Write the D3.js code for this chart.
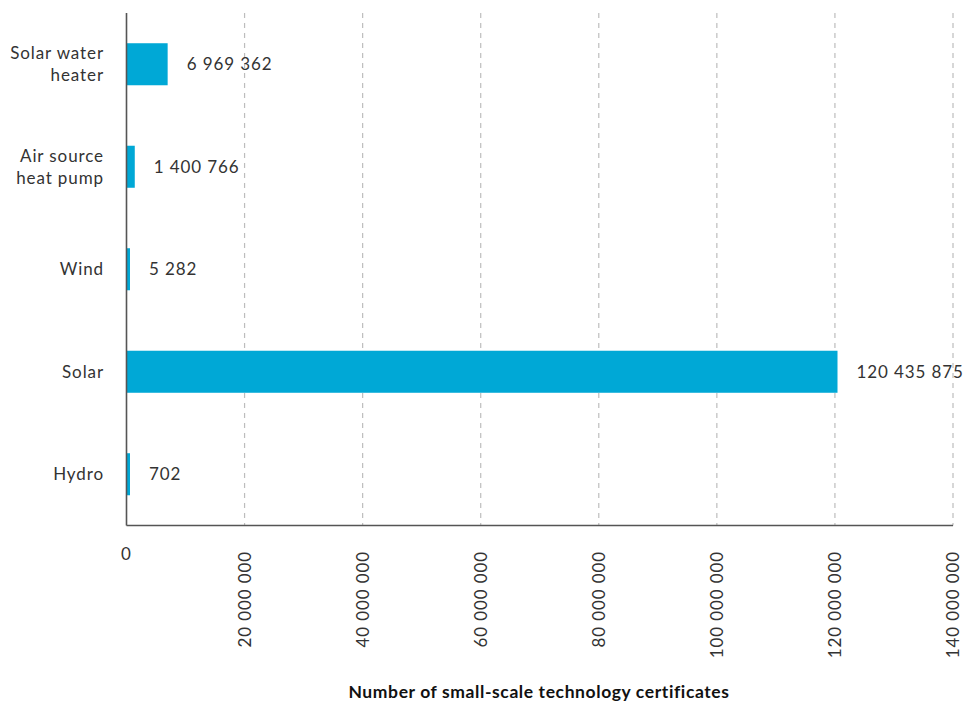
<!DOCTYPE html>
<html>
<head>
<meta charset="utf-8">
<script src="https://cdn.jsdelivr.net/npm/d3@7"></script>
<style>
  html, body { margin: 0; padding: 0; background: #fff; }
  svg text { font-family: Lato, "Open Sans", sans-serif; fill: #333; }
</style>
</head>
<body>
<svg id="chart" width="965" height="701"></svg>
<script>
// Small-scale technology certificates by technology type
const categories = [["Solar water", "heater"], ["Air source", "heat pump"], ["Wind"], ["Solar"], ["Hydro"]];
const values = [6969362, 1400766, 5282, 120435875, 702];
const valueLabels = ["6 969 362", "1 400 766", "5 282", "120 435 875", "702"];
const tickValues = [0, 20000000, 40000000, 60000000, 80000000, 100000000, 120000000, 140000000];
const tickLabels = ["0", "20 000 000", "40 000 000", "60 000 000", "80 000 000", "100 000 000", "120 000 000", "140 000 000"];
const axisTitle = "Number of small-scale technology certificates";

const svg = d3.select("#chart");
const plotLeft = 126.5, plotRight = 953, plotTop = 13, plotBottom = 525.5;
const fs = 17, ls = "0.9px";

const x = d3.scaleLinear().domain([0, 140000000]).range([plotLeft, plotRight]);
const y = d3.scaleBand().domain(d3.range(categories.length)).range([plotTop, plotBottom]).paddingInner(0.59).paddingOuter(0.295);

// dashed vertical gridlines
svg.append("g").selectAll("line").data(tickValues.slice(1)).join("line")
  .attr("x1", d => x(d)).attr("x2", d => x(d))
  .attr("y1", plotTop).attr("y2", plotBottom)
  .attr("stroke", "#bdbdbd").attr("stroke-width", 1.2)
  .attr("stroke-dasharray", "5,5");

// bars (tiny values kept visible with a minimal width)
const barW = d => Math.max(x(d) - x(0), 3.5);
svg.append("g").selectAll("rect").data(values).join("rect")
  .attr("x", x(0))
  .attr("y", (d, i) => y(i))
  .attr("width", barW)
  .attr("height", y.bandwidth())
  .attr("fill", "#00a8d6");

// value labels
svg.append("g").selectAll("text").data(values).join("text")
  .attr("x", d => x(0) + barW(d) + 19)
  .attr("y", (d, i) => y(i) + y.bandwidth() / 2)
  .attr("dy", "0.35em")
  .attr("font-size", fs)
  .style("letter-spacing", ls)
  .text((d, i) => valueLabels[i]);

// category labels
const cat = svg.append("g").selectAll("text").data(categories).join("text")
  .attr("text-anchor", "end")
  .attr("font-size", fs)
  .style("letter-spacing", ls)
  .attr("x", 104)
  .attr("y", (d, i) => y(i) + y.bandwidth() / 2);
cat.each(function(lines) {
  const t = d3.select(this);
  const n = lines.length;
  lines.forEach((ln, k) => {
    t.append("tspan")
      .attr("x", 104)
      .attr("dy", k === 0 ? (0.35 - (n - 1) * 0.65) + "em" : "1.3em")
      .text(ln);
  });
});

// axis lines
svg.append("line").attr("x1", plotLeft).attr("x2", plotLeft).attr("y1", plotTop).attr("y2", plotBottom)
  .attr("stroke", "#555").attr("stroke-width", 1.6);
svg.append("line").attr("x1", plotLeft).attr("x2", plotRight).attr("y1", plotBottom).attr("y2", plotBottom)
  .attr("stroke", "#555").attr("stroke-width", 1.6);

// x tick labels: zero upright, the rest rotated
const tl = svg.append("g").selectAll("text").data(tickValues).join("text")
  .attr("font-size", fs)
  .style("letter-spacing", ls)
  .text((d, i) => tickLabels[i]);
tl.filter(d => d === 0)
  .attr("x", x(0)).attr("y", 560).attr("text-anchor", "middle");
tl.filter(d => d !== 0)
  .attr("text-anchor", "end")
  .attr("transform", d => `translate(${x(d)},551) rotate(-90)`)
  .attr("dy", "0.35em");

// axis title
svg.append("text")
  .attr("x", 539).attr("y", 698)
  .attr("text-anchor", "middle")
  .attr("font-size", 17.5)
  .attr("font-weight", "bold")
  .style("letter-spacing", "0.6px")
  .style("fill", "#111")
  .text(axisTitle);
</script>
</body>
</html>
